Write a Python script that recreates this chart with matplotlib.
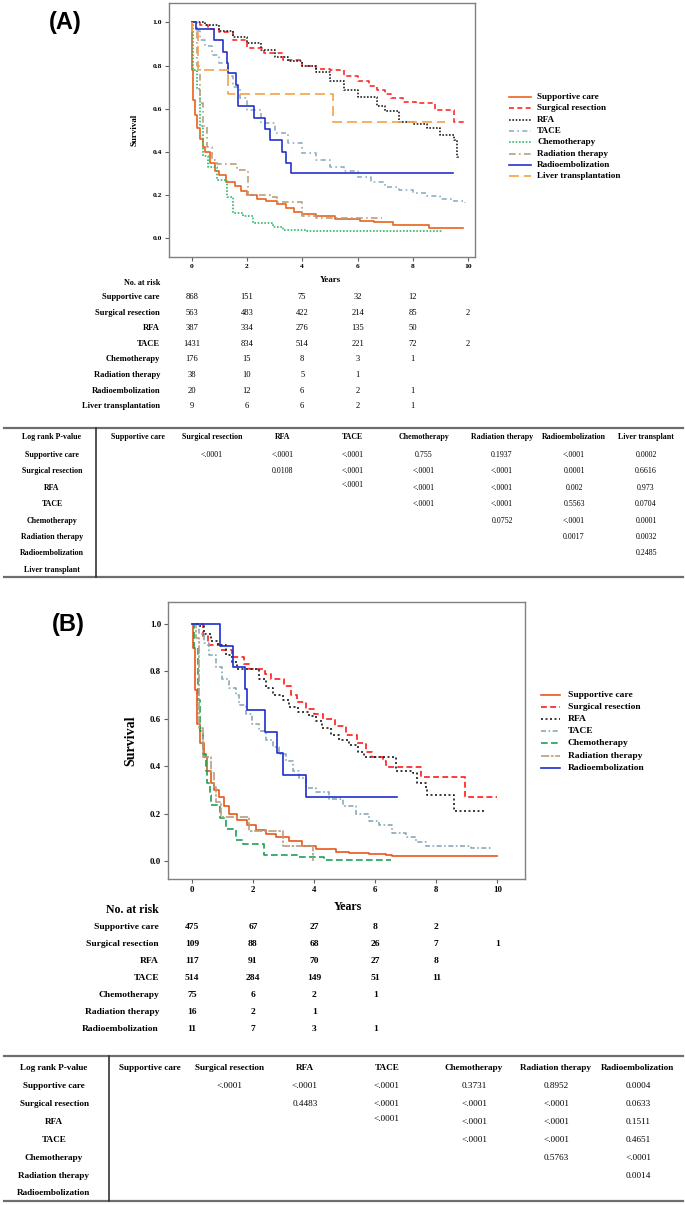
import matplotlib
matplotlib.use("Agg")
import matplotlib.pyplot as plt
from matplotlib.lines import Line2D
from matplotlib.transforms import blended_transform_factory

W, H = 685, 1205
SERIF = "Liberation Serif"
SANS = "Liberation Sans"

# ---------------- Panel A : survival curves (years, survival) ----------------
a_supp_t = [0, 0.02, 0.06, 0.12, 0.18, 0.3, 0.42, 0.48, 0.66, 0.84, 1.0, 1.26, 1.57, 1.8, 2.0,
            2.35, 2.7, 3.07, 3.4, 3.7, 4.0, 4.5, 5.2, 6.1, 6.6, 7.3, 8.6, 9.8]
a_supp_s = [1.0, 0.78, 0.64, 0.57, 0.51, 0.46, 0.42, 0.40, 0.35, 0.31, 0.29, 0.26, 0.24, 0.22, 0.20,
            0.18, 0.17, 0.16, 0.14, 0.12, 0.11, 0.10, 0.09, 0.08, 0.075, 0.06, 0.045, 0.045]
a_surg_t = [0, 0.3, 0.6, 1.0, 1.5, 2.0, 2.6, 3.3, 4.0, 4.5, 5.0, 5.5, 6.0, 6.4, 6.7, 7.0, 7.2,
            7.65, 8.1, 8.8, 9.5, 9.9]
a_surg_s = [1.0, 0.99, 0.97, 0.955, 0.92, 0.88, 0.86, 0.826, 0.80, 0.785, 0.777, 0.75, 0.726,
            0.705, 0.687, 0.67, 0.65, 0.633, 0.625, 0.594, 0.54, 0.54]
a_rfa_t = [0, 0.5, 1.0, 1.5, 2.0, 2.5, 3.0, 3.5, 4.0, 4.5, 5.0, 5.5, 6.0, 6.7, 7.0, 7.5, 8.0,
           8.5, 9.0, 9.5, 9.6, 9.7]
a_rfa_s = [1.0, 0.99, 0.96, 0.93, 0.904, 0.87, 0.84, 0.82, 0.80, 0.77, 0.726, 0.687, 0.656,
           0.61, 0.587, 0.54, 0.53, 0.51, 0.478, 0.455, 0.375, 0.375]
a_tace_t = [0, 0.15, 0.3, 0.5, 0.75, 1.0, 1.3, 1.5, 1.75, 2.0, 2.5, 3.0, 3.5, 4.0, 4.5, 5.0,
            5.5, 6.0, 6.5, 7.0, 7.5, 8.0, 8.5, 9.0, 9.5, 9.9]
a_tace_s = [1.0, 0.96, 0.92, 0.89, 0.85, 0.81, 0.75, 0.70, 0.65, 0.594, 0.532, 0.486, 0.44,
            0.393, 0.36, 0.331, 0.31, 0.285, 0.26, 0.238, 0.222, 0.207, 0.193, 0.18, 0.17, 0.164]
a_chemo_t = [0, 0.05, 0.18, 0.3, 0.42, 0.6, 0.9, 1.27, 1.51, 1.87, 2.23, 2.95, 3.31, 4.16, 9.1]
a_chemo_s = [1.0, 0.78, 0.69, 0.52, 0.38, 0.33, 0.27, 0.19, 0.115, 0.10, 0.07, 0.053, 0.037,
             0.034, 0.034]
a_rad_t = [0, 0.18, 0.3, 0.42, 0.54, 0.72, 0.9, 1.63, 2.05, 2.83, 3.07, 3.98, 4.5, 6.9]
a_rad_s = [1.0, 0.80, 0.625, 0.52, 0.42, 0.36, 0.345, 0.315, 0.20, 0.19, 0.168, 0.10, 0.095, 0.095]
a_remb_t = [0, 0.15, 0.8, 1.15, 1.27, 1.33, 1.6, 1.66, 2.27, 2.66, 2.83, 3.25, 3.43, 3.6, 9.46]
a_remb_s = [1.0, 0.97, 0.92, 0.865, 0.81, 0.765, 0.71, 0.61, 0.556, 0.505, 0.455, 0.40, 0.35,
            0.30, 0.30]
a_liver_t = [0, 0.02, 0.24, 1.33, 5.1, 9.15]
a_liver_s = [1.0, 0.95, 0.778, 0.667, 0.54, 0.54]

# ---------------- Panel B : survival curves ----------------
b_supp_t = [0, 0.05, 0.1, 0.16, 0.26, 0.40, 0.51, 0.62, 0.73, 0.89, 1.06, 1.22, 1.49, 1.82,
            2.09, 2.42, 2.75, 3.18, 3.62, 4.06, 4.71, 5.15, 5.8, 6.35, 6.56, 10.0]
b_supp_s = [1.0, 0.9, 0.72, 0.58, 0.50, 0.44, 0.38, 0.33, 0.30, 0.27, 0.23, 0.20, 0.175, 0.15,
            0.13, 0.115, 0.10, 0.085, 0.065, 0.05, 0.04, 0.035, 0.03, 0.025, 0.02, 0.02]
b_surg_t = [0, 0.35, 0.52, 0.95, 1.33, 1.71, 1.88, 2.4, 2.6, 3.0, 3.25, 3.45, 3.73, 4.0, 4.3,
            4.7, 5.04, 5.4, 5.7, 5.9, 6.24, 6.35, 7.5, 8.94, 10.0]
b_surg_s = [1.0, 0.95, 0.91, 0.89, 0.86, 0.83, 0.81, 0.79, 0.77, 0.74, 0.70, 0.67, 0.64, 0.62,
            0.60, 0.57, 0.53, 0.50, 0.46, 0.44, 0.42, 0.395, 0.355, 0.27, 0.27]
b_rfa_t = [0, 0.24, 0.40, 0.62, 0.84, 1.11, 1.33, 1.49, 2.2, 2.42, 2.64, 2.97, 3.18, 3.46, 3.84,
           4.06, 4.27, 4.55, 4.82, 5.15, 5.42, 5.64, 6.67, 7.22, 7.38, 7.65, 7.71, 8.58, 9.56]
b_rfa_s = [1.0, 0.99, 0.96, 0.93, 0.91, 0.87, 0.84, 0.81, 0.77, 0.73, 0.70, 0.68, 0.65, 0.63,
           0.61, 0.59, 0.56, 0.53, 0.51, 0.49, 0.46, 0.44, 0.38, 0.37, 0.33, 0.31, 0.28, 0.21, 0.21]
b_tace_t = [0, 0.24, 0.4, 0.57, 0.79, 1.0, 1.22, 1.44, 1.55, 1.77, 1.98, 2.2, 2.42, 2.64, 2.86,
            3.08, 3.3, 3.51, 3.73, 4.06, 4.5, 4.93, 5.37, 5.8, 6.13, 6.56, 7.0, 7.33, 7.65, 9.13, 9.84]
b_tace_s = [1.0, 0.96, 0.92, 0.87, 0.82, 0.77, 0.73, 0.70, 0.66, 0.62, 0.58, 0.55, 0.51, 0.48,
            0.45, 0.42, 0.38, 0.35, 0.31, 0.29, 0.26, 0.23, 0.20, 0.17, 0.15, 0.12, 0.10, 0.08,
            0.065, 0.055, 0.055]
b_chemo_t = [0, 0.08, 0.19, 0.26, 0.35, 0.46, 0.51, 0.59, 0.62, 0.93, 1.11, 1.44, 1.66, 2.37,
             3.46, 4.33, 6.51]
b_chemo_s = [1.0, 0.9, 0.68, 0.55, 0.45, 0.38, 0.33, 0.28, 0.235, 0.18, 0.137, 0.087, 0.07,
             0.027, 0.017, 0.003, 0.003]
b_rad_t = [0, 0.13, 0.24, 0.35, 0.62, 0.73, 0.79, 0.95, 1.88, 2.99, 3.98]
b_rad_s = [1.0, 0.94, 0.5625, 0.4375, 0.375, 0.3125, 0.25, 0.1875, 0.125, 0.0625, 0.0]
b_remb_t = [0, 0.93, 1.36, 1.73, 1.79, 2.39, 2.8, 2.97, 3.73, 6.7]
b_remb_s = [1.0, 0.909, 0.818, 0.727, 0.636, 0.545, 0.455, 0.364, 0.27, 0.27]

# ---------------- Numbers at risk ----------------
risk_years = [0, 2, 4, 6, 8, 10]
a_risk_labels = ["Supportive care", "Surgical resection", "RFA", "TACE", "Chemotherapy",
                 "Radiation therapy", "Radioembolization", "Liver transplantation"]
a_risk = [[868, 151, 75, 32, 12],
          [563, 483, 422, 214, 85, 2],
          [387, 334, 276, 135, 50],
          [1431, 834, 514, 221, 72, 2],
          [176, 15, 8, 3, 1],
          [38, 10, 5, 1],
          [20, 12, 6, 2, 1],
          [9, 6, 6, 2, 1]]
b_risk_labels = a_risk_labels[:7]
b_risk = [[475, 67, 27, 8, 2],
          [109, 88, 68, 26, 7, 1],
          [117, 91, 70, 27, 8],
          [514, 284, 149, 51, 11],
          [75, 6, 2, 1],
          [16, 2, 1],
          [11, 7, 3, 1]]

# ---------------- Log rank p-value tables ----------------
a_pcols = ["Supportive care", "Surgical resection", "RFA", "TACE", "Chemotherapy",
           "Radiation therapy", "Radioembolization", "Liver transplant"]
a_prows = a_pcols
a_pvals = [["", "<.0001", "<.0001", "<.0001", "0.755", "0.1937", "<.0001", "0.0002"],
           ["", "", "0.0108", "<.0001", "<.0001", "<.0001", "0.0001", "0.6616"],
           ["", "", "", "<.0001", "<.0001", "<.0001", "0.002", "0.973"],
           ["", "", "", "", "<.0001", "<.0001", "0.5563", "0.0704"],
           ["", "", "", "", "", "0.0752", "<.0001", "0.0001"],
           ["", "", "", "", "", "", "0.0017", "0.0032"],
           ["", "", "", "", "", "", "", "0.2485"],
           ["", "", "", "", "", "", "", ""]]
b_pcols = a_pcols[:7]
b_prows = b_pcols
b_pvals = [["", "<.0001", "<.0001", "<.0001", "0.3731", "0.8952", "0.0004"],
           ["", "", "0.4483", "<.0001", "<.0001", "<.0001", "0.0633"],
           ["", "", "", "<.0001", "<.0001", "<.0001", "0.1511"],
           ["", "", "", "", "<.0001", "<.0001", "0.4651"],
           ["", "", "", "", "", "0.5763", "<.0001"],
           ["", "", "", "", "", "", "0.0014"],
           ["", "", "", "", "", "", ""]]


def fx(x):
    return x / W


def fy(y):
    return 1 - y / H


fig = plt.figure(figsize=(W / 100, H / 100), dpi=100)

# series styles (colour, dash pattern)
a_series = [
    ("Supportive care", a_supp_t, a_supp_s, "#E8641E", "-"),
    ("Surgical resection", a_surg_t, a_surg_s, "#FF2A2A", (0, (3, 2))),
    ("RFA", a_rfa_t, a_rfa_s, "#222222", (0, (1, 1))),
    ("TACE", a_tace_t, a_tace_s, "#8FAFC0", (0, (3, 2, 1, 2))),
    ("Chemotherapy", a_chemo_t, a_chemo_s, "#2EB86E", (0, (1, 1))),
    ("Radiation therapy", a_rad_t, a_rad_s, "#B8A07E", (0, (4, 2, 1, 2))),
    ("Radioembolization", a_remb_t, a_remb_s, "#2233CC", "-"),
    ("Liver transplantation", a_liver_t, a_liver_s, "#F7A04A", (0, (6, 3))),
]
b_series = [
    ("Supportive care", b_supp_t, b_supp_s, "#E8581C", "-"),
    ("Surgical resection", b_surg_t, b_surg_s, "#FF1A1A", (0, (3.5, 2))),
    ("RFA", b_rfa_t, b_rfa_s, "#1A1A1A", (0, (1.2, 1.5))),
    ("TACE", b_tace_t, b_tace_s, "#8BA9B8", (0, (3, 1.5, 1, 1.5))),
    ("Chemotherapy", b_chemo_t, b_chemo_s, "#1FA055", (0, (4, 2))),
    ("Radiation therapy", b_rad_t, b_rad_s, "#B59E7F", (0, (5, 1, 1.5, 1))),
    ("Radioembolization", b_remb_t, b_remb_s, "#1B2FD0", "-"),
]


def make_axes(rect_px, xlim, ylim, tick_size):
    left, top, right, bottom = rect_px
    ax = fig.add_axes([fx(left), fy(bottom), fx(right - left), (bottom - top) / H])
    ax.set_xlim(*xlim)
    ax.set_ylim(*ylim)
    for side in ["top", "right", "left", "bottom"]:
        ax.spines[side].set_color("#808080")
        ax.spines[side].set_linewidth(1.0)
    ax.set_xticks([0, 2, 4, 6, 8, 10])
    ax.set_yticks([0, 0.2, 0.4, 0.6, 0.8, 1.0])
    ax.set_yticklabels(["%.1f" % v for v in ax.get_yticks()])
    ax.tick_params(length=3, width=0.8, color="#606060", pad=2)
    for lab in ax.get_xticklabels() + ax.get_yticklabels():
        lab.set_fontfamily(SERIF)
        lab.set_fontweight("bold")
        lab.set_fontsize(tick_size)
    return ax


def draw_legend(series, x_line, x_text, y0, dy, size, line_len):
    for i, (name, t, s, col, ls) in enumerate(series):
        y = y0 + i * dy
        fig.add_artist(Line2D([fx(x_line), fx(x_line + line_len)], [fy(y), fy(y)],
                              color=col, linestyle=ls, lw=1.2, transform=fig.transFigure))
        fig.text(fx(x_text), fy(y), name, ha="left", va="center", family=SERIF,
                 fontweight="bold", fontsize=size)


def draw_risk(ax, labels, risk, y0, dy, label_x, size, weight):
    tr = blended_transform_factory(ax.transData, fig.transFigure)
    for i, (lab, row) in enumerate(zip(labels, risk)):
        y = y0 + i * dy
        fig.text(fx(label_x), fy(y), lab, ha="right", va="center", family=SERIF,
                 fontweight="bold", fontsize=size)
        for yr, n in zip(risk_years, row):
            ax.text(yr, fy(y), str(n), transform=tr, ha="center", va="center",
                    family=SERIF, fontweight=weight, fontsize=size)


def draw_ptable(cols, rows, vals, col_x, y_top, y_head, y_row0, dy, y_bot, vline_x, size):
    fig.add_artist(Line2D([fx(4), fx(683)], [fy(y_top), fy(y_top)], color="#6E6E6E",
                          lw=1.6, transform=fig.transFigure))
    fig.add_artist(Line2D([fx(4), fx(683)], [fy(y_bot), fy(y_bot)], color="#6E6E6E",
                          lw=1.6, transform=fig.transFigure))
    fig.add_artist(Line2D([fx(vline_x), fx(vline_x)], [fy(y_top), fy(y_bot)], color="#333333",
                          lw=1.2, transform=fig.transFigure))
    fig.text(fx(col_x[0]), fy(y_head), "Log rank P-value", ha="center", va="center",
             family=SERIF, fontweight="bold", fontsize=size)
    for j, c in enumerate(cols):
        fig.text(fx(col_x[j + 1]), fy(y_head), c, ha="center", va="center", family=SERIF,
                 fontweight="bold", fontsize=size)
    for i, r in enumerate(rows):
        y = y_row0 + i * dy
        fig.text(fx(col_x[0]), fy(y), r, ha="center", va="center", family=SERIF,
                 fontweight="bold", fontsize=size)
        for j, v in enumerate(vals[i]):
            if v:
                yy = y - 3 if (i == 2 and j == 3) else y
                fig.text(fx(col_x[j + 1]), fy(yy), v, ha="center", va="center",
                         family=SERIF, fontsize=size)


# ---------------- Panel A ----------------
axA = make_axes((169, 3, 475, 257), (-0.82, 10.25), (-0.088, 1.09), 5.4)
for name, t, s, col, ls in a_series:
    axA.step(t, s, where="post", color=col, linestyle=ls, lw=1.2)
axA.set_ylabel("Survival", family=SERIF, fontweight="bold", fontsize=6.4, labelpad=10)
fig.text(fx(330), fy(280), "Years", ha="center", va="center", family=SERIF,
         fontweight="bold", fontsize=6.4)
fig.text(fx(65), fy(22), "(A)", ha="center", va="center", family=SANS, fontweight="bold",
         fontsize=17)
draw_legend(a_series, 509, 537, 97, 11.3, 6.6, 22)
fig.text(fx(160), fy(283), "No. at risk", ha="right", va="center", family=SERIF,
         fontweight="bold", fontsize=5.9)
draw_risk(axA, a_risk_labels, a_risk, 297, 15.6, 160, 6.1, "normal")
draw_ptable(a_pcols, a_prows, a_pvals, [52, 138, 212, 283, 353, 424, 502, 574, 646],
            428, 437, 455, 16.4, 577, 96, 5.7)

# ---------------- Panel B ----------------
axB = make_axes((168, 602, 525, 879), (-0.78, 10.9), (-0.076, 1.093), 6.3)
for name, t, s, col, ls in b_series:
    axB.step(t, s, where="post", color=col, linestyle=ls, lw=1.2)
axB.set_ylabel("Survival", family=SERIF, fontweight="bold", fontsize=10, labelpad=9)
fig.text(fx(348), fy(907), "Years", ha="center", va="center", family=SERIF,
         fontweight="bold", fontsize=8.6)
fig.text(fx(68), fy(624), "(B)", ha="center", va="center", family=SANS, fontweight="bold",
         fontsize=17)
draw_legend(b_series, 541, 568, 695, 12.1, 6.8, 19)
fig.text(fx(159), fy(910), "No. at risk", ha="right", va="center", family=SERIF,
         fontweight="bold", fontsize=8.5)
draw_risk(axB, b_risk_labels, b_risk, 927, 17.0, 159, 6.8, "bold")
draw_ptable(b_pcols, b_prows, b_pvals, [54, 150, 230, 305, 387, 474, 556, 638],
            1056, 1068, 1086, 17.9, 1201, 109, 6.6)

fig.savefig("out.png", dpi=100)
